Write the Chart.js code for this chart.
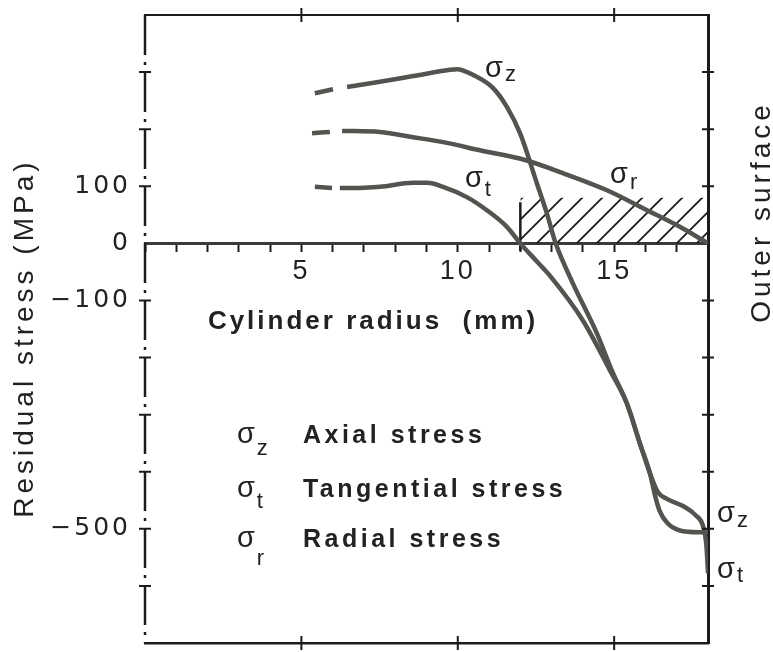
<!DOCTYPE html>
<html>
<head>
<meta charset="utf-8">
<title>Residual stress vs cylinder radius</title>
<script src="https://cdn.jsdelivr.net/npm/chart.js@4.4.1/dist/chart.umd.min.js"></script>
<style>
  html, body { margin: 0; padding: 0; background: #fff; }
  #wrap { width: 773px; height: 652px; }
</style>
</head>
<body>
<div id="wrap"><canvas id="stressChart" width="773" height="652"></canvas></div>
<script>
// radius (mm) / stress (MPa); null = pen lift after the leading dash
const radiusAxial = [5.43, 6.01, 6.2, 6.46, 7.51, 8.57, 9.75, 9.97, 10.49, 11.13, 11.57, 11.99, 12.53, 12.85, 13.13, 13.68, 14.45, 14.96, 15.41, 15.82, 16.14, 16.3, 16.45, 16.7, 17.1, 17.7, 18];
const stressAxial = [263, 270, null, 274, 283, 293, 304, 305, 295, 272, 239, 193, 105, 52, 0, -70, -158, -227, -281, -350, -402, -440, -468, -490, -503, -506, -505];

const radiusTangential = [5.43, 5.98, 6.1, 6.23, 6.87, 7.51, 8.57, 9.02, 9.53, 10.29, 10.93, 11.57, 12.0, 12.5, 12.95, 14.0, 14.87, 15.41, 15.82, 16.14, 16.4, 16.7, 17.2, 17.6, 17.85, 17.95, 18];
const stressTangential = [99, 97, null, 97, 97, 99, 106, 106, 99, 81, 58, 29, 0, -30, -57, -135, -223, -281, -350, -402, -436, -448, -460, -476, -497, -530, -578];

const radiusRadial = [5.34, 5.91, 6.1, 6.30, 7.51, 8.57, 9.65, 10.71, 12.15, 13.36, 14.77, 16.05, 17.1, 18];
const stressRadial = [193, 195, null, 197, 195, 186, 176, 163, 146, 123, 93, 58, 29, 0];

// hatched zone next to the outer surface and its bounding stroke
const hatchRadius = [12.0, 18];
const hatchStress = [80, 80];
const markRadius = [12.0, 12.0];
const markStress = [-13, 72];

const xTickLabels = [5, 10, 15];
const yTickLabels = [100, 0, -100, -500];

const legendSubs = ['z', 't', 'r'];
const legendNames = ['Axial stress', 'Tangential stress', 'Radial stress'];
const legendStress = [-350, -444, -532];

const INK = '#1c1c1c';
const CURVE = '#53534f';
const TEXT = '#222';
const SANS = "'Liberation Sans', Arial, sans-serif";

const pts = (xs, ys) => xs.map((x, i) => ({ x, y: ys[i] }));
const minus = v => v < 0 ? '\u2212' + Math.abs(v) : String(v);

function hatchPattern() {
  const s = 20;
  const c = document.createElement('canvas');
  c.width = s; c.height = s;
  const g = c.getContext('2d');
  g.strokeStyle = INK;
  g.lineWidth = 1.8;
  g.beginPath();
  g.moveTo(0, s); g.lineTo(s, 0);
  g.moveTo(-s / 2, s / 2); g.lineTo(s / 2, -s / 2);
  g.moveTo(s / 2, s * 1.5); g.lineTo(s * 1.5, s / 2);
  g.stroke();
  return g.createPattern(c, 'repeat');
}

const curve = (label, xs, ys) => ({
  label, data: pts(xs, ys), order: 1,
  borderColor: CURVE, borderWidth: 4.5, pointRadius: 0,
  cubicInterpolationMode: 'monotone', spanGaps: false, fill: false
});

function drawText(ctx, str, x, y, font, spacing, align, rot) {
  ctx.save();
  ctx.translate(x, y);
  if (rot) ctx.rotate(rot);
  ctx.font = font;
  ctx.letterSpacing = spacing + 'px';
  ctx.textAlign = align || 'left';
  ctx.textBaseline = 'alphabetic';
  ctx.fillStyle = TEXT;
  ctx.fillText(str, 0, 0);
  ctx.restore();
}

function drawSigma(ctx, sub, x, y, dy) {
  ctx.save();
  ctx.font = '29px ' + SANS;
  ctx.letterSpacing = '0px';
  const w = ctx.measureText('\u03c3').width;
  ctx.restore();
  drawText(ctx, '\u03c3', x, y, '29px ' + SANS, 0);
  drawText(ctx, sub, x + w + 2, y + dy, '22px ' + SANS, 0);
}

// curve names placed in data units
const curveLabels = [
  { sub: 'z', x: 10.87, y: 291, dy: 4 },
  { sub: 't', x: 10.23, y: 99, dy: 9 },
  { sub: 'r', x: 14.87, y: 106, dy: 6 },
  { sub: 'z', x: 18.29, y: -488, dy: 5 },
  { sub: 't', x: 18.29, y: -586, dy: 4 }
];

const decor = {
  id: 'decor',
  beforeDraw(chart) { chart.ctx.letterSpacing = '3px'; },
  afterDraw(chart) {
    const { ctx, chartArea: area, scales } = chart;
    const { x, y, xTop, xBot, yR } = scales;
    ctx.save();
    // cylinder centre line (dash-dot) on the left edge
    ctx.strokeStyle = INK;
    ctx.lineWidth = 2.5;
    ctx.setLineDash([40, 7, 3, 7]);
    ctx.beginPath();
    ctx.moveTo(y.right, y.top); ctx.lineTo(y.right, y.bottom);
    ctx.stroke();
    ctx.setLineDash([]);

    ctx.lineWidth = 2;
    ctx.beginPath();
    [y, yR].forEach(s => {
      const edge = s === y ? s.right : s.left;
      s.ticks.forEach(t => {
        if (t.value === s.min || t.value === s.max || t.value === 0) return;
        const p = s.getPixelForValue(t.value);
        ctx.moveTo(edge - 6, p); ctx.lineTo(edge + 6, p);
      });
    });
    [xTop, xBot].forEach(s => {
      const edge = s === xTop ? s.bottom : s.top;
      s.ticks.forEach(t => {
        if (t.value === s.min || t.value === s.max) return;
        const p = s.getPixelForValue(t.value);
        ctx.moveTo(p, edge - 7); ctx.lineTo(p, edge + 7);
      });
    });
    ctx.stroke();
    ctx.restore();

    drawText(ctx, 'Cylinder radius  (mm)', x.getPixelForValue(7.29), y.getPixelForValue(-150), 'bold 26px ' + SANS, 3, 'center');
    drawText(ctx, 'Residual stress (MPa)', 33, y.getPixelForValue(-166), '28px ' + SANS, 4, 'center', -Math.PI / 2);
    drawText(ctx, 'Outer surface', area.right + 62, y.getPixelForValue(55), '28px ' + SANS, 4, 'center', -Math.PI / 2);

    curveLabels.forEach(l => drawSigma(ctx, l.sub, x.getPixelForValue(l.x), y.getPixelForValue(l.y), l.dy));

    const legendDy = [12, 11, 18];
    legendNames.forEach((name, i) => {
      const py = y.getPixelForValue(legendStress[i]);
      drawSigma(ctx, legendSubs[i], x.getPixelForValue(2.94), py, legendDy[i]);
      drawText(ctx, name, x.getPixelForValue(5.05), py, 'bold 25px ' + SANS, 3.5);
    });
  }
};

const frameAxis = (position, width) => ({
  type: 'linear', position, min: 0, max: 18,
  afterFit: s => { s.height = 0; },
  grid: { drawOnChartArea: false, drawTicks: false },
  border: { display: true, color: INK, width },
  ticks: { display: false, stepSize: 5 }
});

new Chart(document.getElementById('stressChart'), {
  type: 'line',
  data: {
    datasets: [
      { label: 'hatch', data: pts(hatchRadius, hatchStress), order: 3, fill: 'origin', backgroundColor: hatchPattern(), borderWidth: 0, pointRadius: 0 },
      { label: 'mark', data: pts(markRadius, markStress), order: 2, borderColor: INK, borderWidth: 2.5, pointRadius: 0, fill: false },
      curve('\u03c3z', radiusAxial, stressAxial),
      curve('\u03c3t', radiusTangential, stressTangential),
      curve('\u03c3r', radiusRadial, stressRadial)
    ]
  },
  options: {
    responsive: false,
    animation: false,
    events: [],
    layout: { padding: { left: 0, right: 65, top: 15, bottom: 9 } },
    plugins: { legend: { display: false }, tooltip: { enabled: false } },
    scales: {
      x: {
        type: 'linear', min: 0, max: 18, position: { y: 0 },
        afterFit: s => { s.paddingLeft = 0; s.paddingRight = 0; },
        grid: { drawOnChartArea: false, drawTicks: true, tickLength: 7, tickColor: INK, tickWidth: 2 },
        border: { display: true, color: '#3a3a3a', width: 3 },
        ticks: {
          stepSize: 1, autoSkip: false, maxRotation: 0, padding: 5, color: TEXT,
          font: { family: SANS, size: 27 },
          callback: v => xTickLabels.includes(v) ? String(v) : ''
        }
      },
      xTop: frameAxis('top', 2),
      xBot: frameAxis('bottom', 2.5),
      y: {
        type: 'linear', position: 'left', min: -700, max: 400,
        afterFit: s => { s.width = 145; s.paddingTop = 0; s.paddingBottom = 0; },
        grid: { drawOnChartArea: false, drawTicks: false },
        border: { display: false },
        ticks: {
          stepSize: 100, autoSkip: false, padding: 14, color: TEXT,
          font: { family: "'DejaVu Sans', sans-serif", size: 25 },
          callback: v => yTickLabels.includes(v) ? minus(v) : ''
        }
      },
      yR: {
        type: 'linear', position: 'right', min: -700, max: 400,
        afterFit: s => { s.width = 0; },
        grid: { drawOnChartArea: false, drawTicks: false },
        border: { display: true, color: INK, width: 3 },
        ticks: { display: false, stepSize: 100 }
      }
    }
  },
  plugins: [decor]
});
</script>
</body>
</html>
